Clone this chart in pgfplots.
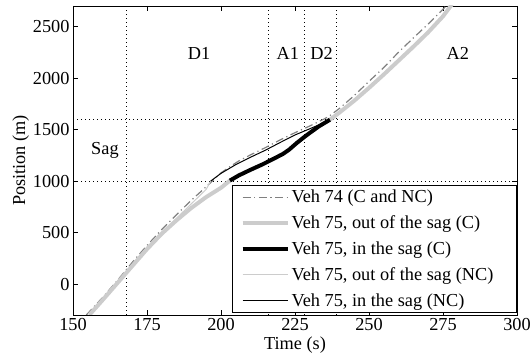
\documentclass[border=0pt]{standalone}
\usepackage{pgfplots}
\pgfplotsset{compat=1.18}
\usepackage{fontspec}
\setmainfont{Liberation Serif}
\definecolor{lgray}{gray}{0.8}
\definecolor{dgray}{gray}{0.5}
\newcommand{\fs}{\fontsize{18.3}{21}\selectfont}
\begin{document}
\begin{tikzpicture}
\begin{axis}[
  scale only axis, width=444pt, height=309pt,
  xmin=150, xmax=300, ymin=-300, ymax=2700,
  xtick={150,175,...,300}, ytick={0,500,...,2500},
  tick align=inside, tickpos=both, major tick length=5pt,
  axis line style={line width=0.8pt}, every tick/.style={black, line width=0.6pt},
  /pgf/number format/assume math mode=true,
  /pgf/number format/1000 sep={},
  ticklabel style={font=\fs},
  label style={font=\fs},
  xlabel={Time (s)}, ylabel={Position (m)},
  xlabel style={yshift=1pt},
  ylabel style={yshift=-3pt},
  extra x ticks={168,216,228,239}, extra x tick labels={},
  extra y ticks={1000,1600}, extra y tick labels={},
  extra tick style={grid=major, major tick length=0pt, grid style={black, line width=0.6pt, dash pattern=on 0.8pt off 3.2pt}},
  legend style={at={(1,0)}, anchor=south east, yshift=2pt, draw=black, line width=0.8pt,
    font=\fs, inner xsep=8pt, inner ysep=3pt, row sep=7.5pt, fill=white},
  legend cell align=left,
  legend image code/.code={\draw[#1] plot coordinates {(0pt,0pt) (45pt,0pt)};},
]
\addplot[dgray, line width=1.2pt, dash pattern=on 8pt off 3.5pt on 1.2pt off 3.5pt] coordinates {
(154.5,-300)(160,-130)(165,35)(170,210)(175,375)(180,530)(185,675)(190,815)(195,945)(200,1080)(203,1140)(206,1195)(210,1255)(215,1325)(220,1400)(225,1470)(230,1535)(235,1605)(237,1640)(240,1705)(245,1830)(250,1968)(255,2103)(260,2252)(265,2390)(270,2525)(275,2668)(276.3,2710)};
\addlegendentry{\makebox[215pt][l]{Veh 74 (C and NC)}}
\addplot[lgray, line width=4pt] coordinates {
(155.5,-300)(160,-155)(165,10)(170,175)(175,340)(180,490)(185,620)(190,740)(195,845)(200,935)(203,1005)};
\addlegendentry{Veh 75, out of the sag (C)}
\addplot[lgray, line width=4pt, forget plot] coordinates {
(236.8,1596)(240,1665)(245,1780)(250,1905)(255,2035)(260,2170)(265,2305)(270,2445)(275,2600)(277.6,2700)(278,2715)};
\addplot[black, line width=4pt] coordinates {
(203,1005)(206,1055)(210,1110)(214,1162)(218,1220)(221,1265)(223,1305)(225.6,1370)(228,1425)(230,1468)(233,1530)(236.8,1596)};
\addlegendentry{Veh 75, in the sag (C)}
\addplot[lgray, line width=1pt] coordinates {
(155.5,-300)(160,-155)(165,10)(170,175)(175,340)(178,430)(180,492)(185,640)(190,780)(195,920)(196.5,1000)};
\addlegendentry{Veh 75, out of the sag (NC)}
\addplot[lgray, line width=1pt, forget plot] coordinates {
(236.8,1596)(240,1665)(245,1780)(250,1905)(255,2035)(260,2170)(265,2305)(270,2445)(275,2600)(277.6,2700)(278,2715)};
\addplot[black, line width=1pt] coordinates {
(196.5,1000)(200,1075)(205,1160)(210,1232)(215,1300)(220,1375)(225,1448)(230,1508)(233,1545)(236.8,1596)};
\addlegendentry{Veh 75, in the sag (NC)}
\node[font=\fs] at (axis cs:192.6,2238) {D1};
\node[font=\fs] at (axis cs:222.6,2238) {A1};
\node[font=\fs] at (axis cs:234,2238) {D2};
\node[font=\fs] at (axis cs:280,2238) {A2};
\node[font=\fs] at (axis cs:160.8,1298) {Sag};
\end{axis}
\pgfresetboundingbox
\path (current axis.south west) ++(-73pt,-48pt) rectangle ++(532pt,363pt);
\end{tikzpicture}
\end{document}
